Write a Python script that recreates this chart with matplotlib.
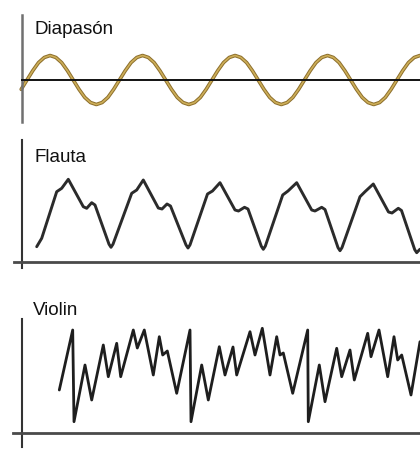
import numpy as np
import matplotlib
matplotlib.use("Agg")
import matplotlib.pyplot as plt

# ---------------- data (time in arbitrary units, origin at the vertical axis) ----------------
titles = ["Diapasón", "Flauta", "Violin"]

# Tuning fork: regularly sampled pure tone (normalised amplitude)
diapason_t0 = -0.3
diapason_dt = 5.78
diapason_y = [
    -0.38, 0.00,
    0.38, 0.71, 0.92, 1.00, 0.92, 0.71, 0.38, 0.00, -0.38, -0.71, -0.92, -1.00, -0.92, -0.71,
    -0.38, 0.00, 0.38, 0.71, 0.92, 1.00, 0.92, 0.71, 0.38, 0.00, -0.38, -0.71, -0.92, -1.00, -0.92, -0.71,
    -0.38, 0.00, 0.38, 0.71, 0.92, 1.00, 0.92, 0.71, 0.38, 0.00, -0.38, -0.71, -0.92, -1.00, -0.92, -0.71,
    -0.38, 0.00, 0.38, 0.71, 0.92, 1.00, 0.92, 0.71, 0.38, 0.00, -0.38, -0.71, -0.92, -1.00, -0.92, -0.71,
    -0.38, 0.00, 0.38, 0.71, 0.92, 1.00,
]

# Flute
flauta_t = [15.2, 20.2, 35.2, 40.2, 46.8, 61.8, 65.2, 70.2, 73.5, 87.5, 89.5, 91.5,
            110.2, 115.2, 121.8, 136.8, 140.5, 145.5, 149.0, 164.5, 166.5, 168.5,
            186.0, 191.0, 198.5, 213.5, 217.0, 223.0, 226.5, 239.8, 241.8, 243.8,
            261.2, 266.5, 275.2, 290.2, 293.5, 300.2, 303.5, 316.5, 318.5, 320.5,
            338.5, 343.5, 351.8, 367.0, 370.5, 376.8, 380.0, 393.2, 395.2, 398.5]
flauta_y = [15.0, 23.4, 70.0, 73.4, 82.4, 55.0, 53.4, 59.0, 56.7, 17.5, 14.4, 17.5,
            68.4, 71.7, 81.7, 53.7, 52.7, 57.7, 55.7, 16.8, 13.7, 16.8,
            67.7, 70.7, 79.0, 51.7, 50.7, 54.4, 52.7, 15.5, 12.4, 15.5,
            66.7, 70.7, 79.0, 51.7, 50.7, 54.4, 52.2, 14.1, 11.0, 14.1,
            65.0, 70.0, 77.7, 49.7, 48.7, 53.4, 51.2, 12.1, 9.0, 12.5]

# Violin
violin_t = [37.8, 51.2, 52.5, 63.5, 70.2, 81.8, 86.8, 95.2, 99.2, 111.8, 115.8, 122.8,
            131.8, 137.8, 141.2, 145.8, 155.2, 168.5, 169.5, 180.2, 186.8, 197.8, 203.5,
            211.5, 215.2, 228.5, 233.5, 240.8, 248.5, 255.2, 258.5, 261.8, 271.2, 286.2,
            286.8, 297.8, 303.5, 315.2, 320.2, 328.5, 332.8, 346.2, 349.5, 357.5, 366.2,
            372.5, 376.2, 380.2, 389.5, 398.5]
violin_y = [43.3, 103.3, 11.6, 68.3, 33.3, 88.3, 56.6, 90.0, 56.6, 103.3, 85.3, 103.3,
            58.3, 96.6, 78.3, 82.3, 40.0, 103.3, 11.6, 68.3, 33.3, 86.6, 58.3,
            86.3, 58.3, 101.6, 78.3, 105.0, 58.3, 96.6, 78.3, 80.3, 40.0, 103.3,
            11.6, 68.3, 31.6, 85.0, 56.6, 83.3, 53.3, 100.0, 76.6, 103.3, 56.6,
            96.6, 73.3, 78.3, 38.3, 91.6]

# ---------------- figure ----------------
W, H = 420, 450
fig = plt.figure(figsize=(W / 100, H / 100), dpi=100)
fig.patch.set_facecolor("white")

XLIM = (-21.5, 398.5)


def make_axes(top_px, bottom_px, ylim):
    ax = fig.add_axes([0, 1 - bottom_px / H, 1, (bottom_px - top_px) / H])
    ax.set_xlim(*XLIM)
    ax.set_ylim(*ylim)
    ax.set_facecolor("none")
    for s in ("top", "right"):
        ax.spines[s].set_visible(False)
    ax.spines["left"].set_position(("data", 0))
    ax.spines["bottom"].set_position(("data", 0))
    ax.set_xticks([])
    ax.set_yticks([])
    return ax


# Diapason
ax1 = make_axes(15, 122, (-1.714, 2.653))
t1 = diapason_t0 + diapason_dt * np.arange(len(diapason_y))
ax1.plot(t1, diapason_y, color="#8C6E2C", lw=2.6, solid_joinstyle="round",
         solid_capstyle="round", zorder=2)
ax1.plot(t1, diapason_y, color="#CDAE58", lw=1.2, solid_joinstyle="round",
         solid_capstyle="round", zorder=2)
ax1.spines["left"].set_color("#707070")
ax1.spines["left"].set_linewidth(1.8)
ax1.spines["bottom"].set_color("#111111")
ax1.spines["bottom"].set_linewidth(1.4)
ax1.spines["bottom"].set_bounds(0, XLIM[1])
ax1.spines["bottom"].set_zorder(3)

# Flauta
ax2 = make_axes(140, 268, (-6.3, 121.7))
ax2.plot(flauta_t, flauta_y, color="#2b2b2b", lw=2.1, solid_joinstyle="round",
         solid_capstyle="round")
ax2.spines["left"].set_color("#333333")
ax2.spines["left"].set_linewidth(1.5)
ax2.spines["bottom"].set_color("#4a4a4a")
ax2.spines["bottom"].set_linewidth(2.0)
ax2.spines["bottom"].set_bounds(-7.5, XLIM[1])

# Violin
ax3 = make_axes(319.3, 446.7, (-13.4, 114.0))
ax3.plot(violin_t, violin_y, color="#1e1e1e", lw=2.0, solid_joinstyle="round",
         solid_capstyle="round")
ax3.spines["left"].set_color("#333333")
ax3.spines["left"].set_linewidth(1.5)
ax3.spines["bottom"].set_color("#4a4a4a")
ax3.spines["bottom"].set_linewidth(2.0)
ax3.spines["bottom"].set_bounds(-8.5, XLIM[1])

# Titles
title_pos = [(35, 34), (35, 162), (33, 315)]
for txt, (x, y) in zip(titles, title_pos):
    fig.text(x / W, 1 - y / H, txt, family=["Liberation Sans", "DejaVu Sans"],
             fontsize=13.5, color="#111111", ha="left", va="baseline")

fig.savefig("out.png", dpi=100, facecolor="white")
